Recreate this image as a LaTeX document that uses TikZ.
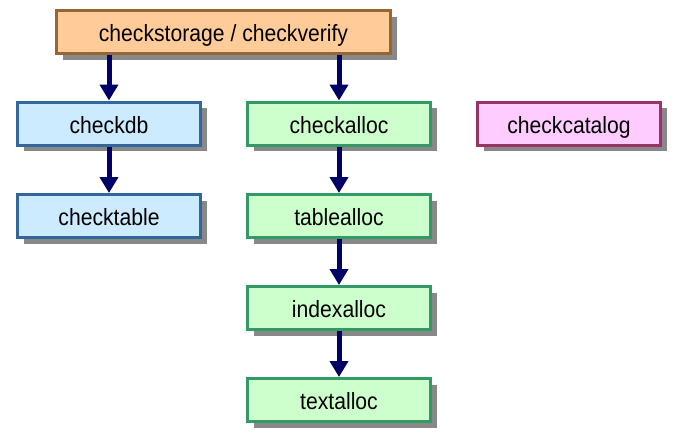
\documentclass[tikz,border=0pt]{standalone}
\usepackage{fontspec}
\setmainfont{Liberation Sans}[FakeStretch=0.9]
\usetikzlibrary{arrows.meta,shadows}
\definecolor{orfill}{HTML}{FFCC99}
\definecolor{ordraw}{HTML}{996633}
\definecolor{blfill}{HTML}{CCEBFF}
\definecolor{bldraw}{HTML}{336699}
\definecolor{grfill}{HTML}{CCFFCC}
\definecolor{grdraw}{HTML}{339966}
\definecolor{pkfill}{HTML}{FFCCFF}
\definecolor{pkdraw}{HTML}{993366}
\definecolor{navy}{HTML}{000066}
\definecolor{shade}{HTML}{888888}
\begin{document}
\begin{tikzpicture}[x=1pt,y=-1pt,
  box/.style={draw, line width=3pt, minimum width=183pt, minimum height=43pt, inner sep=0pt,
    text height=19pt, text depth=0pt,
    font=\fontsize{23.5}{26}\selectfont,
    drop shadow={shadow xshift=6pt, shadow yshift=-6pt, fill=shade, opacity=1}},
  orbox/.style={box, fill=orfill, draw=ordraw},
  blbox/.style={box, fill=blfill, draw=bldraw},
  grbox/.style={box, fill=grfill, draw=grdraw},
  pkbox/.style={box, fill=pkfill, draw=pkdraw},
  link/.style={draw=navy, line width=5pt, -{Triangle[width=18pt,length=16pt]}}]
\useasboundingbox (0,0) rectangle (673,439);
\node[orbox, minimum width=334pt] (top) at (223.5,32) {checkstorage / checkverify};
\node[blbox] (checkdb) at (109,123.5) {checkdb};
\node[grbox] (checkalloc) at (339,123.5) {checkalloc};
\node[pkbox] (checkcatalog) at (569,123.5) {checkcatalog};
\node[blbox] (checktable) at (109,216) {checktable};
\node[grbox] (tablealloc) at (339,216) {tablealloc};
\node[grbox] (indexalloc) at (339,308) {indexalloc};
\node[grbox] (textalloc) at (339,400) {textalloc};
\draw[link] (top.south -| checkdb) -- (checkdb.north);
\draw[link] (top.south -| checkalloc) -- (checkalloc.north);
\draw[link] (checkdb) -- (checktable);
\draw[link] (checkalloc) -- (tablealloc);
\draw[link] (tablealloc) -- (indexalloc);
\draw[link] (indexalloc) -- (textalloc);
\end{tikzpicture}
\end{document}
